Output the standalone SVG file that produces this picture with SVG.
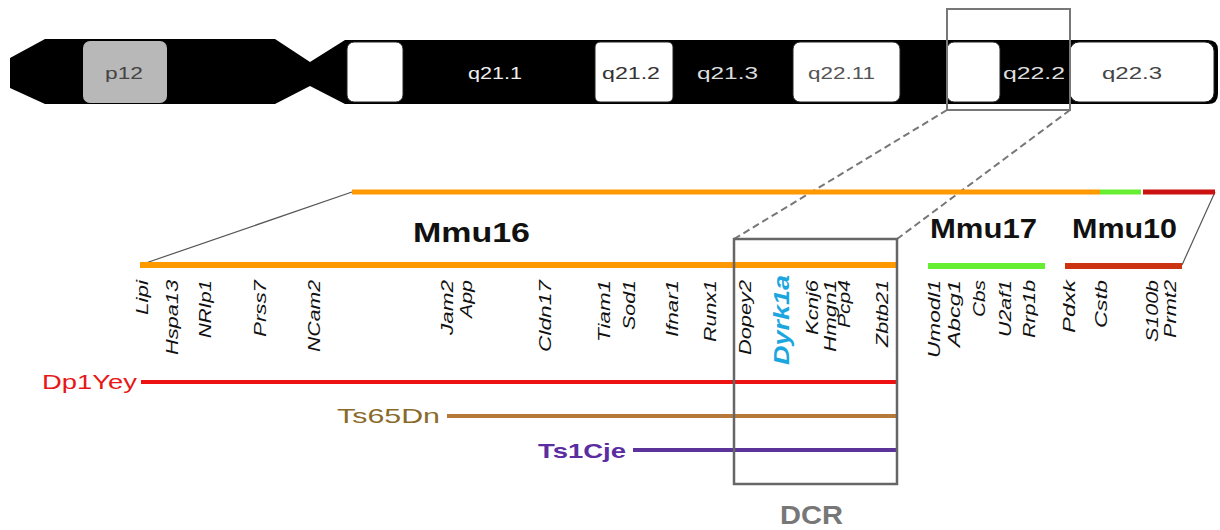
<svg xmlns="http://www.w3.org/2000/svg" width="1220" height="530" viewBox="0 0 1220 530">
<style>
.band{font-family:"Liberation Sans",Arial,sans-serif;font-size:17px}
.gene{font-family:"Liberation Sans",Arial,sans-serif;font-size:16.5px;font-style:italic;fill:#111}
.mmu{font-family:"Liberation Sans",Arial,sans-serif;font-size:28px;font-weight:bold;fill:#111}
.strain{font-family:"Liberation Sans",Arial,sans-serif;font-size:21px}
.wb{fill:#fff;stroke:#222;stroke-width:1}
</style>
<rect width="1220" height="530" fill="#fff"/>
<g id="chromosome">
<path d="M10,58 L45,39 L275,39 L310,62 L345,40 L1208,40 Q1218,40 1218,50 L1218,94 Q1218,104 1208,104 L345,104 L310,86 L275,104 L45,104 L10,88 Z" fill="#000"/>
<rect x="83" y="41" width="84" height="62" rx="7" fill="#b8b8b8"/>
<rect class="wb" x="347" y="42" width="56" height="60" rx="7"/>
<rect class="wb" x="595" y="42" width="78" height="60" rx="5"/>
<rect class="wb" x="793" y="42" width="107" height="60" rx="7"/>
<rect class="wb" x="947" y="42" width="53" height="60" rx="7"/>
<rect class="wb" x="1070" y="42" width="144" height="60" rx="9"/>
<text class="band" x="105" y="79" textLength="38" lengthAdjust="spacingAndGlyphs" fill="#444">p12</text>
<text class="band" x="468" y="79" textLength="54" lengthAdjust="spacingAndGlyphs" fill="#eee">q21.1</text>
<text class="band" x="602" y="79" textLength="58" lengthAdjust="spacingAndGlyphs" fill="#333">q21.2</text>
<text class="band" x="697" y="79" textLength="61" lengthAdjust="spacingAndGlyphs" fill="#ddd">q21.3</text>
<text class="band" x="808" y="79" textLength="67" lengthAdjust="spacingAndGlyphs" fill="#555">q22.11</text>
<text class="band" x="1003" y="79" textLength="62" lengthAdjust="spacingAndGlyphs" fill="#ddd">q22.2</text>
<text class="band" x="1102" y="79" textLength="60" lengthAdjust="spacingAndGlyphs" fill="#444">q22.3</text>
</g>
<g id="zoom-box">
<rect x="947" y="9" width="123" height="101" fill="none" stroke="#777" stroke-width="2"/>
</g>
<g id="connectors" fill="none">
<line x1="947" y1="110" x2="734" y2="239" stroke="#777" stroke-width="2" stroke-dasharray="7 4"/>
<line x1="1070" y1="110" x2="897" y2="239" stroke="#777" stroke-width="2" stroke-dasharray="7 4"/>
<line x1="140" y1="265" x2="352" y2="192" stroke="#555" stroke-width="1.2"/>
<line x1="1182" y1="265" x2="1215" y2="192" stroke="#555" stroke-width="1.2"/>
</g>
<g id="mouse-top-bar">
<line x1="352" y1="192" x2="1100" y2="192" stroke="#ff9900" stroke-width="5"/>
<line x1="1100" y1="192" x2="1141" y2="192" stroke="#66ee33" stroke-width="5"/>
<line x1="1143" y1="192" x2="1215" y2="192" stroke="#cc1111" stroke-width="5"/>
</g>
<g id="mmu16">
<line x1="140" y1="265" x2="897" y2="265" stroke="#ff9900" stroke-width="6"/>
<text class="mmu" x="413" y="242" textLength="117" lengthAdjust="spacingAndGlyphs">Mmu16</text>
</g>
<g id="mmu17">
<line x1="928" y1="266" x2="1045" y2="266" stroke="#66ee33" stroke-width="6"/>
<text class="mmu" x="930" y="238" textLength="107" lengthAdjust="spacingAndGlyphs">Mmu17</text>
</g>
<g id="mmu10">
<line x1="1065" y1="266" x2="1182" y2="266" stroke="#cc3311" stroke-width="6"/>
<text class="mmu" x="1072" y="238" textLength="105" lengthAdjust="spacingAndGlyphs">Mmu10</text>
</g>
<g id="genes" text-anchor="end">
<text class="gene" transform="translate(148,280) rotate(-90)" textLength="35" lengthAdjust="spacingAndGlyphs">Lipi</text>
<text class="gene" transform="translate(178,280) rotate(-90)" textLength="75" lengthAdjust="spacingAndGlyphs">Hspa13</text>
<text class="gene" transform="translate(211,280) rotate(-90)" textLength="58" lengthAdjust="spacingAndGlyphs">NRIp1</text>
<text class="gene" transform="translate(266,280) rotate(-90)" textLength="57" lengthAdjust="spacingAndGlyphs">Prss7</text>
<text class="gene" transform="translate(320,280) rotate(-90)" textLength="72" lengthAdjust="spacingAndGlyphs">NCam2</text>
<text class="gene" transform="translate(453,280) rotate(-90)" textLength="55" lengthAdjust="spacingAndGlyphs">Jam2</text>
<text class="gene" transform="translate(472,280) rotate(-90)" textLength="38" lengthAdjust="spacingAndGlyphs">App</text>
<text class="gene" transform="translate(551,280) rotate(-90)" textLength="72" lengthAdjust="spacingAndGlyphs">Cldn17</text>
<text class="gene" transform="translate(610,280) rotate(-90)" textLength="62" lengthAdjust="spacingAndGlyphs">Tiam1</text>
<text class="gene" transform="translate(635,280) rotate(-90)" textLength="50" lengthAdjust="spacingAndGlyphs">Sod1</text>
<text class="gene" transform="translate(678,280) rotate(-90)" textLength="57" lengthAdjust="spacingAndGlyphs">Ifnar1</text>
<text class="gene" transform="translate(716,280) rotate(-90)" textLength="62" lengthAdjust="spacingAndGlyphs">Runx1</text>
<text class="gene" transform="translate(751,280) rotate(-90)" textLength="75" lengthAdjust="spacingAndGlyphs">Dopey2</text>
<text transform="translate(789,275) rotate(-90)" textLength="90" lengthAdjust="spacingAndGlyphs" font-family="Liberation Sans, Arial, sans-serif" font-size="22" font-weight="bold" font-style="italic" fill="#1ca6e0">Dyrk1a</text>
<text class="gene" transform="translate(818,280) rotate(-90)" textLength="55" lengthAdjust="spacingAndGlyphs">Kcnj6</text>
<text class="gene" transform="translate(836,280) rotate(-90)" textLength="72" lengthAdjust="spacingAndGlyphs">Hmgn1</text>
<text class="gene" transform="translate(850,280) rotate(-90)" textLength="48" lengthAdjust="spacingAndGlyphs">Pcp4</text>
<text class="gene" transform="translate(888,280) rotate(-90)" textLength="67" lengthAdjust="spacingAndGlyphs">Zbtb21</text>
<text class="gene" transform="translate(940,280) rotate(-90)" textLength="78" lengthAdjust="spacingAndGlyphs">Umodl1</text>
<text class="gene" transform="translate(960,280) rotate(-90)" textLength="67" lengthAdjust="spacingAndGlyphs">Abcg1</text>
<text class="gene" transform="translate(985,280) rotate(-90)" textLength="37" lengthAdjust="spacingAndGlyphs">Cbs</text>
<text class="gene" transform="translate(1011,280) rotate(-90)" textLength="57" lengthAdjust="spacingAndGlyphs">U2af1</text>
<text class="gene" transform="translate(1035,280) rotate(-90)" textLength="58" lengthAdjust="spacingAndGlyphs">Rrp1b</text>
<text class="gene" transform="translate(1075,280) rotate(-90)" textLength="53" lengthAdjust="spacingAndGlyphs">Pdxk</text>
<text class="gene" transform="translate(1107,280) rotate(-90)" textLength="48" lengthAdjust="spacingAndGlyphs">Cstb</text>
<text class="gene" transform="translate(1158,280) rotate(-90)" textLength="62" lengthAdjust="spacingAndGlyphs">S100b</text>
<text class="gene" transform="translate(1176,280) rotate(-90)" textLength="58" lengthAdjust="spacingAndGlyphs">Prmt2</text>
</g>
<g id="dp1yey">
<text class="strain" x="42" y="389" textLength="95" lengthAdjust="spacingAndGlyphs" fill="#e81818">Dp1Yey</text>
<line x1="141" y1="382" x2="897" y2="382" stroke="#ee1111" stroke-width="4"/>
</g>
<g id="ts65dn">
<text class="strain" x="337" y="423" textLength="103" lengthAdjust="spacingAndGlyphs" fill="#8a6a2a">Ts65Dn</text>
<line x1="447" y1="416" x2="897" y2="416" stroke="#b57a3a" stroke-width="4"/>
</g>
<g id="ts1cje">
<text class="strain" x="538" y="458" textLength="88" lengthAdjust="spacingAndGlyphs" font-weight="bold" fill="#5a2ea0">Ts1Cje</text>
<line x1="633" y1="450" x2="897" y2="450" stroke="#5c3399" stroke-width="4"/>
</g>
<g id="dcr">
<rect x="734" y="239" width="163" height="245" fill="none" stroke="#666" stroke-width="2.5"/>
<text x="780" y="524" font-family="Liberation Sans, Arial, sans-serif" font-size="25" font-weight="bold" fill="#777" textLength="63" lengthAdjust="spacingAndGlyphs">DCR</text>
</g>
</svg>
